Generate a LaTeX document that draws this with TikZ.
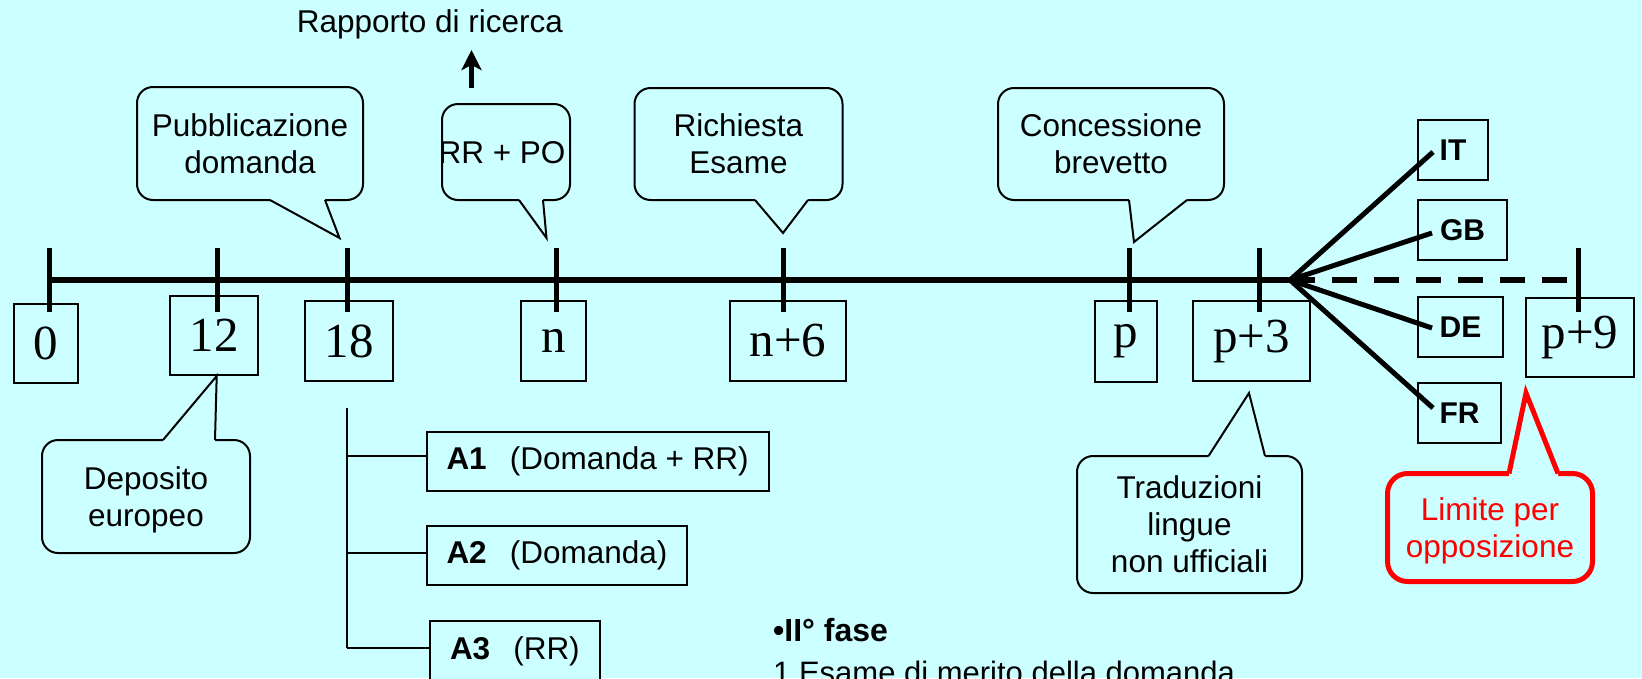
\documentclass[tikz,border=0pt]{standalone}
\usepackage{fontspec}
\setmainfont{Liberation Sans}
\newfontfamily\numfont{Liberation Serif}
\usetikzlibrary{calc,arrows.meta}
\definecolor{bgc}{RGB}{204,255,255}
\definecolor{redc}{RGB}{255,0,0}
\begin{document}
\begin{tikzpicture}[x=1pt,y=-1pt,
  every node/.style={inner sep=0pt},
  numbox/.style={draw, line width=2pt, fill=bgc, font=\numfont\fontsize{49}{52}\selectfont},
  callbox/.style={draw, line width=2pt, fill=bgc, rounded corners=16pt, font=\fontsize{31.5}{37}\selectfont, align=center, text depth=0pt},
  ptrside/.style={draw, line width=2pt, line join=miter},
  cbox/.style={draw, line width=2pt, fill=bgc, font=\bfseries\fontsize{30}{36}\selectfont},
  abox/.style={draw, line width=2pt, fill=bgc, anchor=west, inner xsep=20pt, minimum height=59pt, font=\fontsize{31.5}{36}\selectfont},
  axisline/.style={line width=5.5pt},
  tickmark/.style={line width=5pt},
  fanline/.style={line width=5pt},
  thinline/.style={line width=2pt},
]
\useasboundingbox (0,0) rectangle (1642,678);
\fill[bgc] (0,0) rectangle (1642,678);
\clip (0,0) rectangle (1642,678);

% number boxes
\node[numbox, minimum width=64pt, minimum height=79pt] (b0) at (46,343.5) {0};
\node[numbox, minimum width=88pt, minimum height=79pt] (b12) at (214,335.5) {12};
\node[numbox, minimum width=88pt, minimum height=80pt] (b18) at (349,341) {18};
\node[numbox, minimum width=65pt, minimum height=80pt] (bn) at (553.5,341) {n};
\node[numbox, minimum width=116pt, minimum height=80pt] (bn6) at (788,341) {n+6};
\node[numbox, minimum width=62pt, minimum height=81pt] (bp) at (1126,341.5) {p};
\node[numbox, minimum width=117pt, minimum height=80pt] (bp3) at (1251.5,341) {p+3};
\node[numbox, minimum width=108pt, minimum height=79pt] (bp9) at (1580,337.5) {p+9};

% country boxes
\node[cbox, minimum width=70pt, minimum height=60pt] (it) at (1453,150) {IT};
\node[cbox, minimum width=89pt, minimum height=60pt] (gb) at (1462.5,230) {GB};
\node[cbox, minimum width=85pt, minimum height=60pt] (de) at (1460.5,327) {DE};
\node[cbox, minimum width=83pt, minimum height=60pt] (fr) at (1459.5,413) {FR};

% timeline
\coordinate (t0) at (49.7,280);
\coordinate (t12) at (217,280);
\coordinate (t18) at (347,280);
\coordinate (tn) at (556,280);
\coordinate (tn6) at (783,280);
\coordinate (tp) at (1129,280);
\coordinate (tp3) at (1259,280);
\coordinate (fan) at (1290,280);
\coordinate (tp9) at (1578,280);
\draw[axisline] (t0) -- (fan);
\draw[axisline, dash pattern=on 25pt off 17pt] (fan) -- (tp9);
\foreach \t in {t0,t12,t18,tn,tn6,tp,tp3,tp9}
  \draw[tickmark] ($(\t)+(0,-32)$) -- ($(\t)+(0,32)$);

% fan to countries
\draw[fanline] (fan) -- ($(it.west)+(16,2)$);
\draw[fanline] (fan) -- ($(gb.west)+(15,3)$);
\draw[fanline] (fan) -- ($(de.west)+(15,1)$);
\draw[fanline] (fan) -- ($(fr.west)+(16,-5)$);

% callouts above
\node[callbox, minimum width=226pt, minimum height=113pt] (pub) at (250,143.5) {Pubblicazione\\domanda};
\coordinate (pubtip) at (339.5,238);
\fill[bgc] (270,196) -- (270,200) -- (pubtip) -- (325,200) -- (325,196) -- cycle;
\draw[ptrside] (270,200) -- (pubtip) -- (325,200);

\node[callbox, minimum width=128pt, minimum height=96pt] (rrpo) at (506,152) {\hspace*{-8pt}RR + PO};
\coordinate (rrpotip) at (546.5,238);
\fill[bgc] (519,196) -- (519,200) -- (rrpotip) -- (543,200) -- (543,196) -- cycle;
\draw[ptrside] (519,200) -- (rrpotip) -- (543,200);

\node[callbox, minimum width=208pt, minimum height=112pt] (ric) at (738.5,144) {Richiesta\\Esame};
\coordinate (rictip) at (783,233);
\fill[bgc] (755,196) -- (755,200) -- (rictip) -- (808,200) -- (808,196) -- cycle;
\draw[ptrside] (755,200) -- (rictip) -- (808,200);

\node[callbox, minimum width=226pt, minimum height=112pt] (conc) at (1111,144) {Concessione\\brevetto};
\coordinate (conctip) at (1134,242);
\fill[bgc] (1129,196) -- (1129,200) -- (conctip) -- (1187,200) -- (1187,196) -- cycle;
\draw[ptrside] (1129,200) -- (conctip) -- (1187,200);

% callouts below
\node[callbox, minimum width=208pt, minimum height=113pt] (dep) at (146,496.5) {Deposito\\europeo};
\coordinate (deptip) at ($(b12.south)+(2.7,0)$);
\fill[bgc] (163,444) -- (163,440) -- (deptip) -- (215,440) -- (215,444) -- cycle;
\draw[ptrside] (163,440) -- (deptip) -- (215,440);

\node[callbox, minimum width=225pt, minimum height=137pt] (trad) at (1189.5,524.5) {Traduzioni\\lingue\\non ufficiali};
\coordinate (tradtip) at (1249,393);
\fill[bgc] (1208.5,460) -- (1208.5,456) -- (tradtip) -- (1265,456) -- (1265,460) -- cycle;
\draw[ptrside] (1208.5,456) -- (tradtip) -- (1265,456);

\node[callbox, draw=redc, line width=5pt, text=redc, rounded corners=20pt, minimum width=205pt, minimum height=108pt] (lim) at (1490,527.5) {Limite per\\opposizione};
\coordinate (limtip) at (1526,393);
\fill[bgc] (1509,479) -- (1509,473.5) -- (limtip) -- (1558,473.5) -- (1558,479) -- cycle;
\draw[redc, line width=5pt, line join=miter] (1509,473.5) -- (limtip) -- (1558,473.5);

% A tree
\node[abox] (a1) at (425.5,461.5) {\textbf{A1}\hspace{23pt}(Domanda + RR)};
\node[abox] (a2) at (425.5,555) {\textbf{A2}\hspace{23pt}(Domanda)};
\node[abox, minimum height=60pt] (a3) at (429,651) {\textbf{A3}\hspace{23pt}(RR)};
\coordinate (trtop) at (346.6,408);
\coordinate (j1) at (346.6,456);
\coordinate (j2) at (346.6,553);
\coordinate (j3) at (346.6,648);
\draw[thinline] (trtop) -- (j3);
\draw[thinline] (j1) -- (j1 -| a1.west);
\draw[thinline] (j2) -- (j2 -| a2.west);
\draw[thinline] (j3) -- (j3 -| a3.west);

% top label and arrow
\node[font=\fontsize{31.5}{37}\selectfont, anchor=base] (rap) at (430,32) {Rapporto di ricerca};
\coordinate (arrs) at (471.5,88);
\coordinate (arre) at (471.5,50);
\draw[line width=4.5pt, -{Stealth[length=20pt,width=20pt,inset=5pt]}] (arrs) -- (arre);

% bottom text
\node[anchor=base west, font=\bfseries\fontsize{32}{36}\selectfont] (fase) at (773,641) {•II° fase};
\node[anchor=base west, font=\fontsize{31}{36}\selectfont] (esame) at (773,683) {1.Esame di merito della domanda};
\end{tikzpicture}
\end{document}
